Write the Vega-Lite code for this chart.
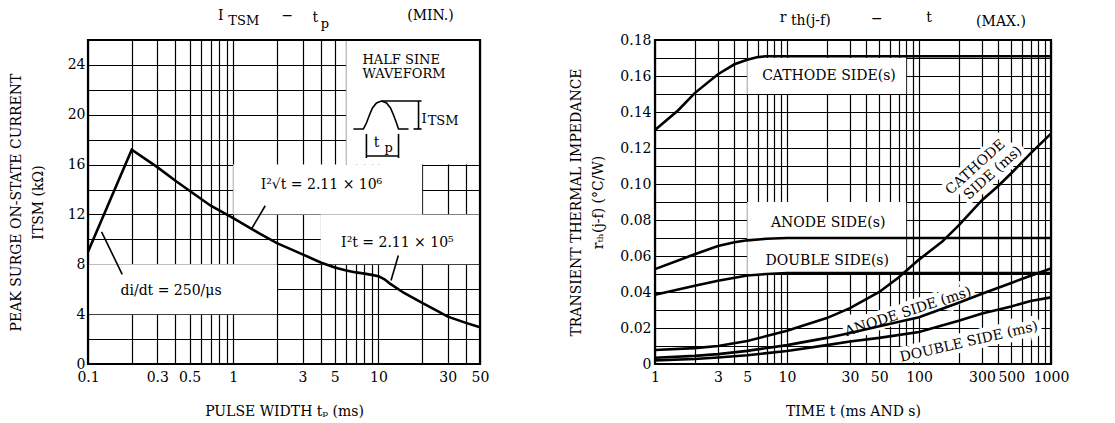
{
  "$schema": "https://vega.github.io/schema/vega-lite/v6.json",
  "padding": {"left": 9, "top": 8, "right": 5, "bottom": 5},
  "spacing": 80,
  "config": {
    "view": {"stroke": null},
    "font": "DejaVu Serif",
    "axis": {
      "labelFont": "DejaVu Serif", "labelFontSize": 14, "labelColor": "#000",
      "titleFont": "DejaVu Serif", "titleFontSize": 14, "titleFontWeight": "normal", "titleColor": "#000",
      "ticks": false, "domain": false, "grid": true, "gridColor": "#000", "gridOpacity": 1, "gridWidth": 1.2,
      "labelFlush": false, "labelOverlap": false, "labelBound": false
    },
    "text": {"font": "DejaVu Serif", "fontSize": 14, "fill": "#000"}
  },
  "hconcat": [
    {
      "width": 392, "height": 324,
      "encoding": {
        "x": {"field": "x", "type": "quantitative", "scale": {"type": "log", "domain": [0.1, 50], "nice": false},
          "axis": {"values": [0.1,0.2,0.3,0.4,0.5,0.6,0.7,0.8,0.9,1,2,3,4,5,6,7,8,9,10,20,30,40,50], "format": "~g",
            "labelExpr": "indexof([0.1,0.3,0.5,1,3,5,10,30,50], datum.value) >= 0 ? datum.label : ''",
            "labelPadding": 6, "titlePadding": 20},
          "title": "PULSE WIDTH  tₚ  (ms)"},
        "y": {"field": "y", "type": "quantitative", "scale": {"domain": [0, 26], "nice": false, "zero": false},
          "axis": {"values": [0,2,4,6,8,10,12,14,16,18,20,22,24], "labelExpr": "datum.value % 4 === 0 ? datum.label : ''",
            "labelPadding": 3, "titlePadding": 22, "titleLineHeight": 22},
          "title": ["PEAK SURGE ON-STATE CURRENT", "ITSM  (kΩ)"]}
      },
      "layer": [
        {
          "data": {"values": [
            {"x": 6, "x2": 50, "y": 16, "y2": 26},
            {"x": 1, "x2": 20, "y": 12, "y2": 16},
            {"x": 4, "x2": 50, "y": 8, "y2": 12},
            {"x": 0.1, "x2": 2, "y": 4, "y2": 8}
          ]},
          "mark": {"type": "rect", "fill": "#fff", "stroke": null},
          "encoding": {"x2": {"field": "x2"}, "y2": {"field": "y2"}}
        },
        {
          "data": {"values": [
            {"x": 0.1, "y": 9.0}, {"x": 0.2, "y": 17.2}, {"x": 0.3, "y": 15.8}, {"x": 0.4, "y": 14.7},
            {"x": 0.5, "y": 13.9}, {"x": 0.7, "y": 12.7}, {"x": 1, "y": 11.7}, {"x": 1.5, "y": 10.5},
            {"x": 2, "y": 9.7}, {"x": 3, "y": 8.8}, {"x": 4, "y": 8.15}, {"x": 5, "y": 7.75},
            {"x": 6, "y": 7.5}, {"x": 7, "y": 7.35}, {"x": 8, "y": 7.25}, {"x": 9, "y": 7.15},
            {"x": 10, "y": 7.05}, {"x": 11, "y": 6.8}, {"x": 12, "y": 6.45}, {"x": 15, "y": 5.7},
            {"x": 20, "y": 4.9}, {"x": 25, "y": 4.3}, {"x": 30, "y": 3.8}, {"x": 40, "y": 3.3}, {"x": 50, "y": 2.95}
          ]},
          "mark": {"type": "line", "stroke": "#000", "strokeWidth": 2.6},
          "encoding": {}
        },
        {
          "data": {"values": [
            {"seg": "p1", "x": 0.124, "y": 10.6}, {"seg": "p1", "x": 0.172, "y": 7.2},
            {"seg": "p2", "x": 1.66, "y": 12.7}, {"seg": "p2", "x": 1.33, "y": 10.8},
            {"seg": "p3", "x": 13.7, "y": 8.7}, {"seg": "p3", "x": 12.2, "y": 6.7},
            {"seg": "w", "x": 6.72, "y": 18.86}, {"seg": "w", "x": 7.88, "y": 18.86}, {"seg": "w", "x": 8.26, "y": 19.34},
            {"seg": "w", "x": 8.67, "y": 19.98}, {"seg": "w", "x": 9.09, "y": 20.55}, {"seg": "w", "x": 9.69, "y": 20.95},
            {"seg": "w", "x": 10.49, "y": 21.1}, {"seg": "w", "x": 11.36, "y": 20.95}, {"seg": "w", "x": 12.1, "y": 20.55},
            {"seg": "w", "x": 12.69, "y": 19.98}, {"seg": "w", "x": 13.31, "y": 19.34}, {"seg": "w", "x": 13.74, "y": 18.86},
            {"seg": "w", "x": 16.1, "y": 18.86},
            {"seg": "b1", "x": 18.87, "y": 21.1}, {"seg": "b1", "x": 18.87, "y": 18.86},
            {"seg": "b2", "x": 10.49, "y": 21.1}, {"seg": "b2", "x": 19.8, "y": 21.1},
            {"seg": "b3", "x": 17.43, "y": 18.86}, {"seg": "b3", "x": 19.8, "y": 18.86},
            {"seg": "t1", "x": 8.26, "y": 18.46}, {"seg": "t1", "x": 8.26, "y": 16.53},
            {"seg": "t2", "x": 13.74, "y": 18.46}, {"seg": "t2", "x": 13.74, "y": 16.53},
            {"seg": "t3", "x": 8.26, "y": 16.69}, {"seg": "t3", "x": 13.74, "y": 16.69}
          ]},
          "mark": {"type": "line", "stroke": "#000", "strokeWidth": 1.6},
          "encoding": {"detail": {"field": "seg"}}
        },
        {
          "data": {"values": [
            {"label": "I²√t = 2.11 × 10⁶", "x": 4.05, "y": 14.4},
            {"label": "I²t = 2.11 × 10⁵", "x": 13.5, "y": 9.7},
            {"label": "di/dt = 250/μs", "x": 0.373, "y": 5.86},
            {"label": "t", "x": 9.69, "y": 17.74},
            {"label": "I", "x": 0.82, "y": 27.93},
            {"label": "−", "x": 2.36, "y": 27.93},
            {"label": "t", "x": 3.68, "y": 27.8},
            {"label": "(MIN.)", "x": 22.8, "y": 27.93}
          ]},
          "mark": {"type": "text", "align": "center", "baseline": "middle", "fontSize": 14},
          "encoding": {"text": {"field": "label"}}
        },
        {
          "data": {"values": [
            {"label": "TSM", "x": 0.925, "y": 27.5},
            {"label": "p", "x": 4.0, "y": 27.3}
          ]},
          "mark": {"type": "text", "align": "left", "baseline": "middle", "fontSize": 13},
          "encoding": {"text": {"field": "label"}}
        },
        {
          "data": {"values": [
            {"label": "p", "x": 11.0, "y": 17.34},
            {"label": "I", "x": 19.8, "y": 19.66},
            {"label": "TSM", "x": 21.8, "y": 19.5},
            {"label": "HALF SINE", "x": 7.76, "y": 24.4},
            {"label": "WAVEFORM", "x": 7.76, "y": 23.3}
          ]},
          "mark": {"type": "text", "align": "left", "baseline": "middle", "fontSize": 13},
          "encoding": {"text": {"field": "label"}}
        },
        {
          "data": {"values": [{"x": 0.1, "x2": 50, "y": 0, "y2": 26}]},
          "mark": {"type": "rect", "fill": null, "stroke": "#000", "strokeWidth": 2.2},
          "encoding": {"x2": {"field": "x2"}, "y2": {"field": "y2"}}
        }
      ]
    },
    {
      "width": 396, "height": 324,
      "encoding": {
        "x": {"field": "x", "type": "quantitative", "scale": {"type": "log", "domain": [1, 1000], "nice": false},
          "axis": {"values": [1,2,3,4,5,6,7,8,9,10,20,30,40,50,60,70,80,90,100,200,300,400,500,600,700,800,900,1000], "format": "~g",
            "labelExpr": "indexof([1,3,5,10,30,50,100,300,500,1000], datum.value) >= 0 ? datum.label : ''",
            "labelPadding": 6, "titlePadding": 20},
          "title": "TIME t  (ms AND s)"},
        "y": {"field": "y", "type": "quantitative", "scale": {"domain": [0, 0.18], "nice": false, "zero": false},
          "axis": {"values": [0,0.01,0.02,0.03,0.04,0.05,0.06,0.07,0.08,0.09,0.1,0.11,0.12,0.13,0.14,0.15,0.16,0.17,0.18],
            "labelExpr": "round(datum.value*100) % 2 === 0 ? (datum.value === 0 ? '0' : format(datum.value, '.2f')) : ''",
            "labelPadding": 4, "titlePadding": 14, "titleLineHeight": 22},
          "title": ["TRANSIENT THERMAL IMPEDANCE", "rₜₕ(j-f)  (°C/W)"]}
      },
      "layer": [
        {
          "data": {"values": [
            {"x": 5, "x2": 80, "y": 0.15, "y2": 0.17},
            {"x": 5, "x2": 80, "y": 0.07, "y2": 0.09},
            {"x": 5, "x2": 80, "y": 0.05, "y2": 0.07}
          ]},
          "mark": {"type": "rect", "fill": "#fff", "stroke": null},
          "encoding": {"x2": {"field": "x2"}, "y2": {"field": "y2"}}
        },
        {
          "data": {"values": [{"label": "CATHODE", "x": 268, "y": 0.1093}, {"label": "SIDE (ms)", "x": 364, "y": 0.1061}]},
          "mark": {"type": "text", "align": "center", "baseline": "middle", "fontSize": 14, "angle": -42, "stroke": "#fff", "strokeWidth": 9, "fill": "#fff"},
          "encoding": {"text": {"field": "label"}}
        },
        {
          "data": {"values": [{"label": "ANODE SIDE (ms)", "x": 82.6, "y": 0.0289}]},
          "mark": {"type": "text", "align": "center", "baseline": "middle", "fontSize": 14, "angle": -18, "stroke": "#fff", "strokeWidth": 9, "fill": "#fff"},
          "encoding": {"text": {"field": "label"}}
        },
        {
          "data": {"values": [{"label": "DOUBLE SIDE (ms)", "x": 239, "y": 0.0122}]},
          "mark": {"type": "text", "align": "center", "baseline": "middle", "fontSize": 14, "angle": -13, "stroke": "#fff", "strokeWidth": 9, "fill": "#fff"},
          "encoding": {"text": {"field": "label"}}
        },
        {
          "data": {"values": [
            {"s": "cathode_s", "x": 1, "y": 0.13}, {"s": "cathode_s", "x": 1.5, "y": 0.141}, {"s": "cathode_s", "x": 2, "y": 0.1505},
            {"s": "cathode_s", "x": 3, "y": 0.161}, {"s": "cathode_s", "x": 4, "y": 0.1665}, {"s": "cathode_s", "x": 5, "y": 0.169},
            {"s": "cathode_s", "x": 6, "y": 0.1705}, {"s": "cathode_s", "x": 7, "y": 0.171}, {"s": "cathode_s", "x": 10, "y": 0.171},
            {"s": "cathode_s", "x": 1000, "y": 0.171},
            {"s": "anode_s", "x": 1, "y": 0.0527}, {"s": "anode_s", "x": 2, "y": 0.061}, {"s": "anode_s", "x": 3, "y": 0.0655},
            {"s": "anode_s", "x": 4, "y": 0.0676}, {"s": "anode_s", "x": 5, "y": 0.0687}, {"s": "anode_s", "x": 7, "y": 0.0696},
            {"s": "anode_s", "x": 10, "y": 0.07}, {"s": "anode_s", "x": 1000, "y": 0.07},
            {"s": "double_s", "x": 1, "y": 0.0385}, {"s": "double_s", "x": 2, "y": 0.0435}, {"s": "double_s", "x": 3, "y": 0.0462},
            {"s": "double_s", "x": 5, "y": 0.0492}, {"s": "double_s", "x": 7, "y": 0.05}, {"s": "double_s", "x": 10, "y": 0.0505},
            {"s": "double_s", "x": 1000, "y": 0.0505},
            {"s": "cathode_ms", "x": 1, "y": 0.0078}, {"s": "cathode_ms", "x": 2, "y": 0.0088}, {"s": "cathode_ms", "x": 3, "y": 0.01},
            {"s": "cathode_ms", "x": 5, "y": 0.0128}, {"s": "cathode_ms", "x": 7, "y": 0.0155}, {"s": "cathode_ms", "x": 10, "y": 0.0185},
            {"s": "cathode_ms", "x": 20, "y": 0.0255}, {"s": "cathode_ms", "x": 30, "y": 0.031}, {"s": "cathode_ms", "x": 50, "y": 0.04},
            {"s": "cathode_ms", "x": 70, "y": 0.048}, {"s": "cathode_ms", "x": 100, "y": 0.058}, {"s": "cathode_ms", "x": 150, "y": 0.068},
            {"s": "cathode_ms", "x": 200, "y": 0.077}, {"s": "cathode_ms", "x": 300, "y": 0.091}, {"s": "cathode_ms", "x": 400, "y": 0.099},
            {"s": "cathode_ms", "x": 500, "y": 0.106}, {"s": "cathode_ms", "x": 700, "y": 0.117}, {"s": "cathode_ms", "x": 1000, "y": 0.128},
            {"s": "anode_ms", "x": 1, "y": 0.0035}, {"s": "anode_ms", "x": 2, "y": 0.0045}, {"s": "anode_ms", "x": 3, "y": 0.0055},
            {"s": "anode_ms", "x": 5, "y": 0.0073}, {"s": "anode_ms", "x": 10, "y": 0.0105}, {"s": "anode_ms", "x": 20, "y": 0.0145},
            {"s": "anode_ms", "x": 30, "y": 0.0172}, {"s": "anode_ms", "x": 50, "y": 0.021}, {"s": "anode_ms", "x": 100, "y": 0.026},
            {"s": "anode_ms", "x": 200, "y": 0.034}, {"s": "anode_ms", "x": 300, "y": 0.039}, {"s": "anode_ms", "x": 500, "y": 0.045},
            {"s": "anode_ms", "x": 700, "y": 0.049}, {"s": "anode_ms", "x": 1000, "y": 0.053},
            {"s": "double_ms", "x": 1, "y": 0.002}, {"s": "double_ms", "x": 2, "y": 0.0028}, {"s": "double_ms", "x": 3, "y": 0.0036},
            {"s": "double_ms", "x": 5, "y": 0.0049}, {"s": "double_ms", "x": 10, "y": 0.0072}, {"s": "double_ms", "x": 20, "y": 0.0105},
            {"s": "double_ms", "x": 30, "y": 0.0125}, {"s": "double_ms", "x": 50, "y": 0.0145}, {"s": "double_ms", "x": 100, "y": 0.0178},
            {"s": "double_ms", "x": 200, "y": 0.024}, {"s": "double_ms", "x": 300, "y": 0.028}, {"s": "double_ms", "x": 500, "y": 0.032},
            {"s": "double_ms", "x": 700, "y": 0.035}, {"s": "double_ms", "x": 1000, "y": 0.037}
          ]},
          "mark": {"type": "line", "stroke": "#000", "strokeWidth": 2.6},
          "encoding": {"detail": {"field": "s"}}
        },
        {
          "data": {"values": [
            {"label": "CATHODE SIDE(s)", "x": 20.8, "y": 0.16},
            {"label": "ANODE SIDE(s)", "x": 20.5, "y": 0.0785},
            {"label": "DOUBLE SIDE(s)", "x": 20.2, "y": 0.0572},
            {"label": "r", "x": 9.33, "y": 0.1922},
            {"label": "−", "x": 48, "y": 0.1917},
            {"label": "t", "x": 119, "y": 0.192},
            {"label": "(MAX.)", "x": 418, "y": 0.19}
          ]},
          "mark": {"type": "text", "align": "center", "baseline": "middle", "fontSize": 14},
          "encoding": {"text": {"field": "label"}}
        },
        {
          "data": {"values": [{"label": "th(j-f)", "x": 10.7, "y": 0.1906}]},
          "mark": {"type": "text", "align": "left", "baseline": "middle", "fontSize": 14},
          "encoding": {"text": {"field": "label"}}
        },
        {
          "data": {"values": [{"label": "CATHODE", "x": 268, "y": 0.1093}, {"label": "SIDE (ms)", "x": 364, "y": 0.1061}]},
          "mark": {"type": "text", "align": "center", "baseline": "middle", "fontSize": 14, "angle": -42},
          "encoding": {"text": {"field": "label"}}
        },
        {
          "data": {"values": [{"label": "ANODE SIDE (ms)", "x": 82.6, "y": 0.0289}]},
          "mark": {"type": "text", "align": "center", "baseline": "middle", "fontSize": 14, "angle": -18},
          "encoding": {"text": {"field": "label"}}
        },
        {
          "data": {"values": [{"label": "DOUBLE SIDE (ms)", "x": 239, "y": 0.0122}]},
          "mark": {"type": "text", "align": "center", "baseline": "middle", "fontSize": 14, "angle": -13},
          "encoding": {"text": {"field": "label"}}
        },
        {
          "data": {"values": [{"x": 1, "x2": 1000, "y": 0, "y2": 0.18}]},
          "mark": {"type": "rect", "fill": null, "stroke": "#000", "strokeWidth": 2.2},
          "encoding": {"x2": {"field": "x2"}, "y2": {"field": "y2"}}
        }
      ]
    }
  ]
}
